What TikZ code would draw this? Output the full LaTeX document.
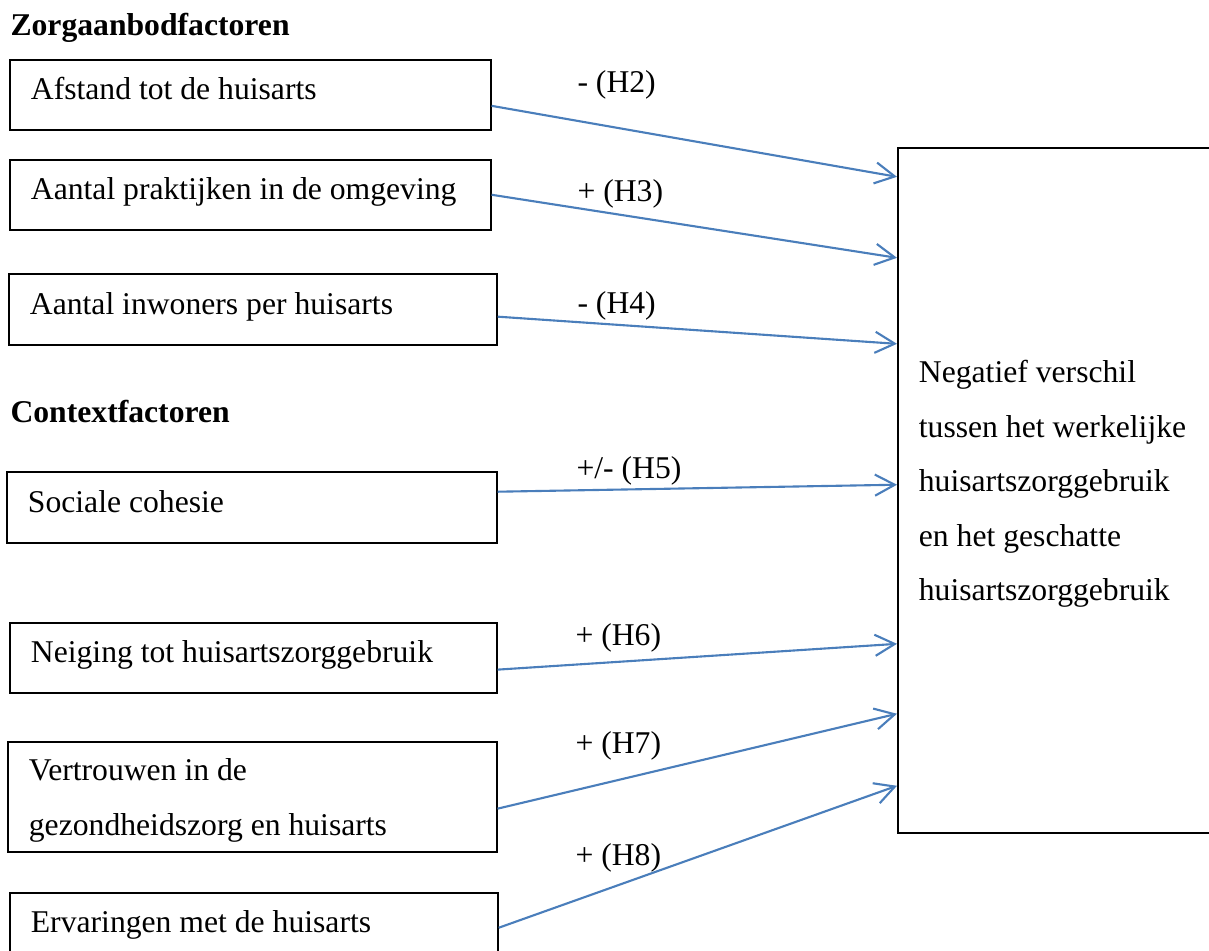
\documentclass[tikz,border=0pt,12pt]{standalone}
\usepackage{fontspec}
\setmainfont{Liberation Serif}
\usetikzlibrary{arrows.meta}
\definecolor{pijlblauw}{HTML}{4A7EBB}

\begin{document}
\begin{tikzpicture}[x=0.379pt, y=-0.379pt,
    factor/.style = {draw, line width=0.6pt, anchor=north west, inner xsep=8pt, inner ysep=0pt,
                     minimum height=26.5pt, text height=9pt, text depth=5.2pt,
                     execute at begin node={\spaceskip=0.25em\relax}},
    kop/.style = {anchor=base west, inner sep=0pt, font=\bfseries},
    hyp/.style = {anchor=base west, inner sep=0pt},
    pijl/.style = {draw=pijlblauw, line width=0.8pt, -{Straight Barb[length=7.5pt, width=8pt]}}]
    \clip (0,0) rectangle (1209,951);

    % zorgaanbodfactoren
    \node[kop] (kop1) at (10,36) {Zorgaanbodfactoren};
    \node[factor, text width=166.3pt] (h2) at (9,59) {Afstand tot de huisarts};
    \node[factor, text width=166.3pt] (h3) at (9,159) {Aantal praktijken in de omgeving};
    \node[factor, text width=169pt, minimum height=26.9pt] (h4) at (8,273) {Aantal inwoners per huisarts};

    % contextfactoren
    \node[kop] (kop2) at (10,422) {Contextfactoren};
    \node[factor, text width=169.7pt, minimum height=26.9pt] (h5) at (6,471) {Sociale cohesie};
    \node[factor, text width=168.6pt] (h6) at (9,622) {Neiging tot huisartszorggebruik};
    \node[factor, text width=169.3pt, minimum height=41.7pt, text height=8pt, text depth=20.1pt,
          font=\fontsize{12}{20.85}\selectfont] (h7) at (7,741) {Vertrouwen in de\\gezondheidszorg en huisarts};
    \node[factor, text width=169pt] (h8) at (9,892) {Ervaringen met de huisarts};

    % uitkomst
    \node[factor, text width=114.8pt, minimum height=259.6pt, text height=8pt, text depth=89.5pt,
          font=\fontsize{12}{20.65}\selectfont] (uitkomst) at (897,147)
          {Negatief verschil\\tussen het werkelijke\\huisartszorggebruik\\en het geschatte\\huisartszorggebruik};

    \draw[pijl] ([yshift=-4.2pt]h2.east) -- ([yshift=118.8pt]uitkomst.west);
    \draw[pijl] (h3.east) -- ([yshift=88.1pt]uitkomst.west);
    \draw[pijl] ([yshift=-2.8pt]h4.east) -- ([yshift=55.5pt]uitkomst.west);
    \draw[pijl] ([yshift=5.9pt]h5.east) -- ([yshift=2.1pt]uitkomst.west);
    \draw[pijl] ([yshift=-4.5pt]h6.east) -- ([yshift=-58.2pt]uitkomst.west);
    \draw[pijl] ([yshift=-4.5pt]h7.east) -- ([yshift=-84.7pt]uitkomst.west);
    \draw[pijl] (h8.east) -- ([yshift=-112pt]uitkomst.west);

    \node[hyp] (l2) at (577,92) {- (H2)};
    \node[hyp] (l3) at (577,202) {+ (H3)};
    \node[hyp] (l4) at (577,313) {- (H4)};
    \node[hyp] (l5) at (576,478) {+/- (H5)};
    \node[hyp] (l6) at (575,645) {+ (H6)};
    \node[hyp] (l7) at (575,753) {+ (H7)};
    \node[hyp] (l8) at (575,865) {+ (H8)};
\end{tikzpicture}
\end{document}
